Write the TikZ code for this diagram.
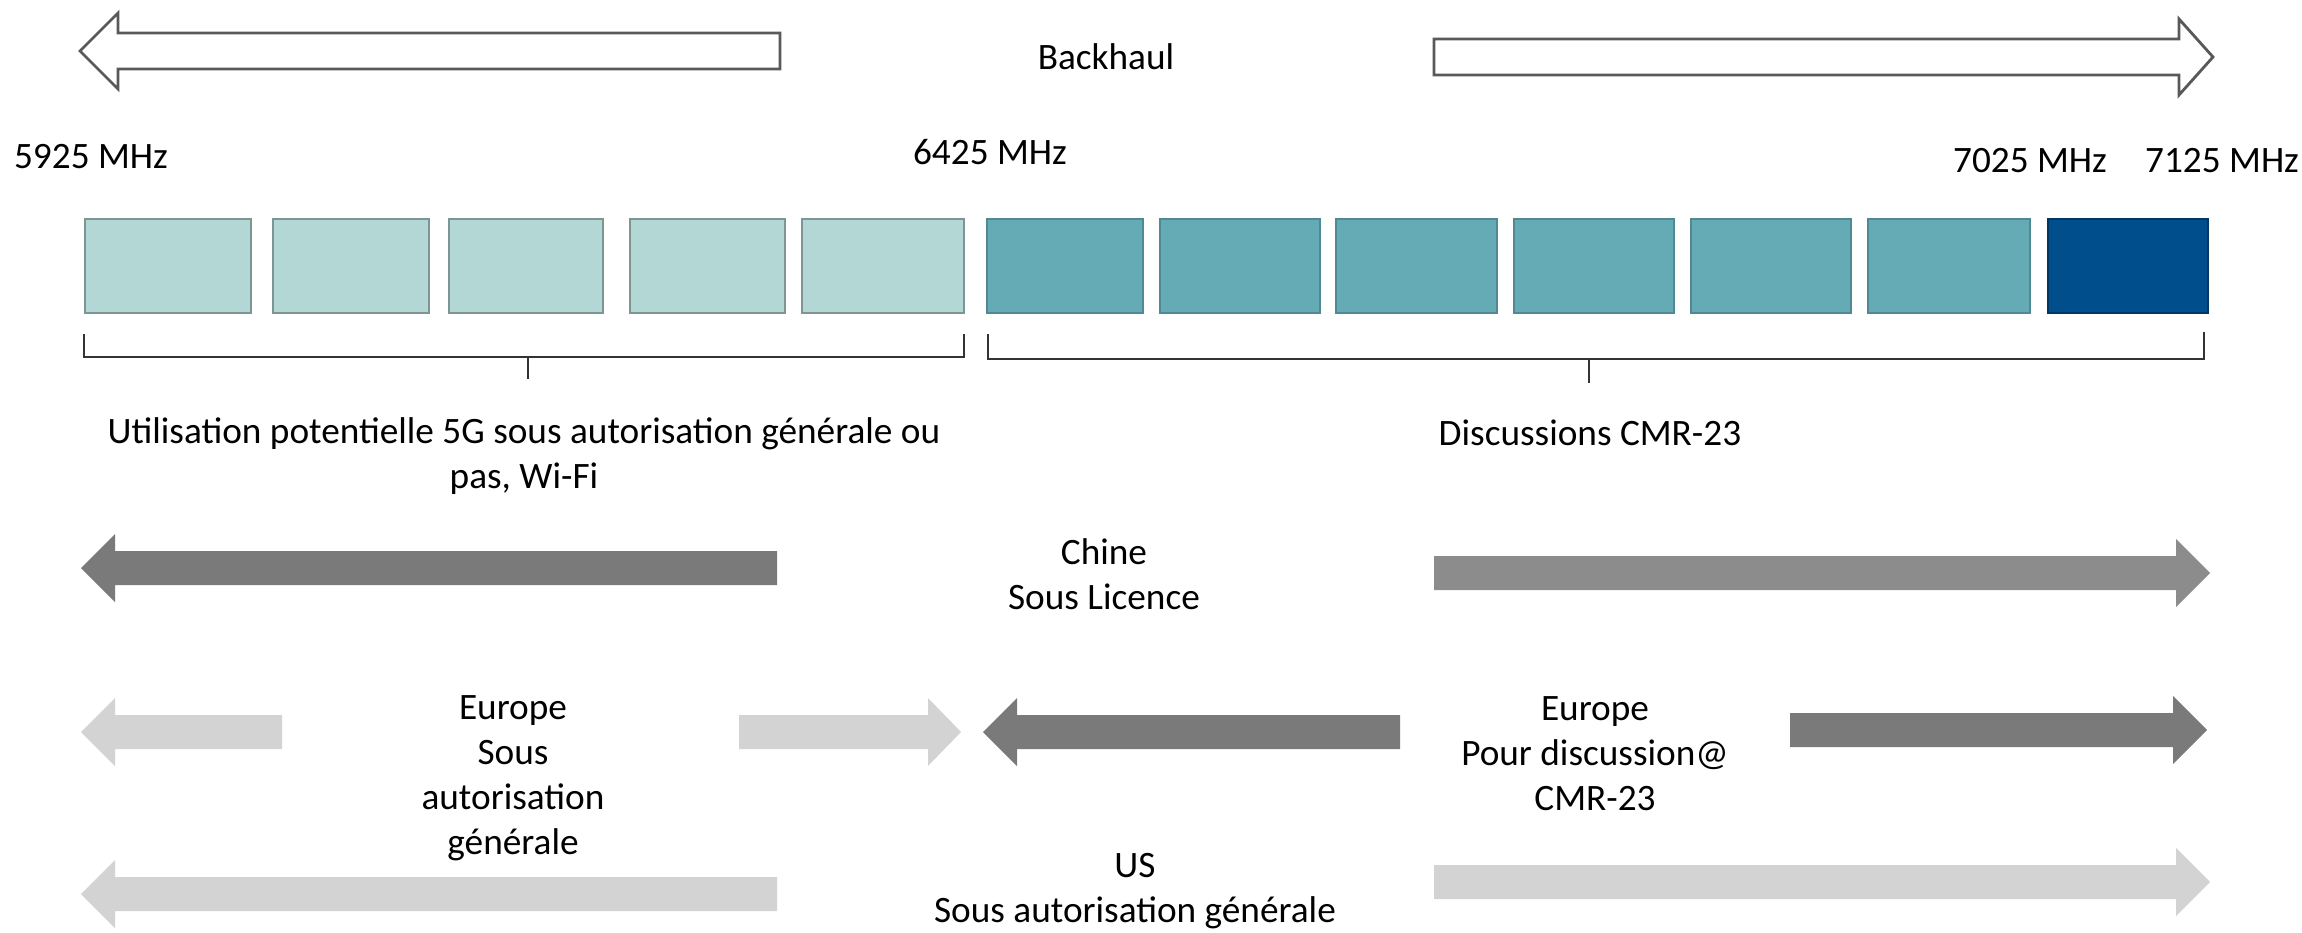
\documentclass[tikz,border=0pt]{standalone}
\usepackage{fontspec}
\setmainfont{Carlito}
\definecolor{bandlight}{RGB}{179,215,213}
\definecolor{bandmid}{RGB}{100,171,182}
\definecolor{banddark}{RGB}{0,79,140}
\definecolor{graydark}{RGB}{122,122,122}
\definecolor{graymid}{RGB}{140,140,140}
\definecolor{graylight}{RGB}{211,211,211}
% block arrow: style, tip x, head base x, tail x, centre y, half shaft, half head
\newcommand{\blockarrow}[7]{%
  \path[#1] (#2,#5) -- (#3,{#5-#7}) -- (#3,{#5-#6}) -- (#4,{#5-#6})
    -- (#4,{#5+#6}) -- (#3,{#5+#6}) -- (#3,{#5+#7}) -- cycle;}
\tikzset{
  lbl/.style={font=\fontsize{10.6}{12.8}\selectfont, align=center, inner sep=0pt},
  brace/.style={draw=black!80, line width=0.45pt},
  outline/.style={draw=black!65, fill=white, line width=0.8pt, line join=miter}
}
\begin{document}
\begin{tikzpicture}[x=0.01cm,y=-0.01cm]
        \useasboundingbox (0,0) rectangle (2302,933);
        
        % backhaul
        \blockarrow{outline}{80}{118}{780}{51}{18}{38}
        \blockarrow{outline}{2213}{2179}{1434}{57}{18}{38}
        \node[lbl] (backhaul) at (1106,57) {Backhaul};
        
        % frequencies
        \node[lbl] (f5925) at (91,157) {5925 MHz};
        \node[lbl] (f6425) at (990,152) {6425 MHz};
        \node[lbl] (f7025) at (2030,161) {7025 MHz};
        \node[lbl] (f7125) at (2222,161) {7125 MHz};
        
        % channels
        \foreach \a/\b in {85/251, 273/429, 449/603, 630/785, 802/964}
            \filldraw[fill=bandlight, draw=bandlight!70!black, line width=0.5pt] (\a,219) rectangle (\b,313);
        \foreach \a/\b in {987/1143, 1160/1320, 1336/1497, 1514/1674, 1691/1851, 1868/2030}
            \filldraw[fill=bandmid, draw=bandmid!80!black, line width=0.5pt] (\a,219) rectangle (\b,313);
        \filldraw[fill=banddark, draw=banddark!70!black, line width=0.5pt] (2048,219) rectangle (2208,313);
        
        % brackets
        \draw[brace] (84,334) -- (84,357) -- (964,357) -- (964,334);
        \draw[brace] (528,357) -- (528,379);
        \draw[brace] (988,334) -- (988,359) -- (2204,359) -- (2204,332);
        \draw[brace] (1589,359) -- (1589,383);
        \node[lbl] (wifi) at (524,456) {Utilisation potentielle 5G sous autorisation générale ou\\pas, Wi-Fi};
        \node[lbl] (cmr) at (1590,433) {Discussions CMR-23};
        
        % Chine
        \blockarrow{fill=graydark}{81}{115}{777}{568}{17}{34}
        \blockarrow{fill=graymid}{2210}{2176}{1434}{573}{17}{34}
        \node[lbl] (chine) at (1104,574) {Chine\\Sous Licence};
        
        % Europe
        \blockarrow{fill=graylight}{81}{115}{282}{732}{17}{34}
        \blockarrow{fill=graylight}{961}{928}{739}{732}{17}{34}
        \blockarrow{fill=graydark}{983}{1017}{1400}{732}{17}{34}
        \blockarrow{fill=graydark}{2207}{2173}{1790}{730}{17}{34}
        \node[lbl] (eugen) at (513,778) {Europe\\Sous\\autorisation\\générale};
        \node[lbl] (eucmr) at (1595,754) {Europe\\Pour discussion@\\CMR-23};
        
        % US
        \blockarrow{fill=graylight}{81}{115}{777}{894}{17}{34}
        \blockarrow{fill=graylight}{2210}{2176}{1434}{882}{17}{34}
        \node[lbl] (us) at (1135,891) {US\\Sous autorisation générale};
    \end{tikzpicture}
\end{document}
